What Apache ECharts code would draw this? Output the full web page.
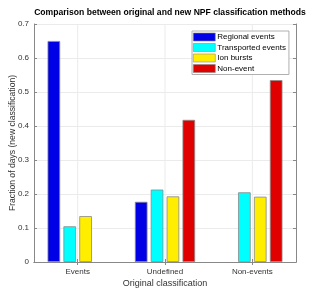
<!DOCTYPE html>
<html><head><meta charset="utf-8">
<script src="https://cdn.jsdelivr.net/npm/echarts@6/dist/echarts.min.js"></script>
<style>html,body{margin:0;padding:0;background:#fff}#c{width:320px;height:296px}</style>
</head><body><div id="c"></div>
<script>
var categories = ['Events', 'Undefined', 'Non-events'];
var regional = [0.650, 0.177, 0];
var transported = [0.105, 0.213, 0.205];
var ionBursts = [0.135, 0.193, 0.192];
var nonEvent = [0, 0.418, 0.535];
var yTicks = [0, 0.1, 0.2, 0.3, 0.4, 0.5, 0.6, 0.7];

var font = 'Liberation Sans, Arial, sans-serif';
var chart = echarts.init(document.getElementById('c'), null, {renderer: 'canvas'});
function bar(name, data, color) {
  return {
    name: name, type: 'bar',
    data: data.map(function (v) { return v === 0 ? '-' : v; }),
    barWidth: 12.6, barGap: '26%',
    itemStyle: {color: color, borderColor: '#8a8a8a', borderWidth: 0.8},
    animation: false
  };
}
chart.setOption({
  animation: false,
  title: {
    text: 'Comparison between original and new NPF classification methods',
    left: 165, top: 3, textAlign: 'center',
    textStyle: {fontFamily: font, fontSize: 8.6, fontWeight: 'bold', color: '#000'}
  },
  legend: {
    orient: 'vertical', left: 192, top: 31,
    itemWidth: 22, itemHeight: 8, itemGap: 1.5,
    padding: [1.5, 3, 1.5, 1],
    borderColor: '#b0b0b0', borderWidth: 1, backgroundColor: '#fff',
    icon: 'rect',
    itemStyle: {borderWidth: 0.6, borderColor: '#8a8a8a'},
    textStyle: {fontFamily: font, fontSize: 8, lineHeight: 9, height: 9, color: '#000', padding: [0, 0, 0, -3]},
    data: ['Regional events', 'Transported events', 'Ion bursts', 'Non-event']
  },
  grid: {left: 34, right: 24, top: 24, bottom: 34, containLabel: false, outerBoundsMode: 'none'},
  xAxis: [{
    type: 'category', data: categories,
    axisLine: {lineStyle: {color: '#888', width: 1}},
    axisTick: {show: true, alignWithLabel: true, inside: true, length: 3, lineStyle: {color: '#888'}},
    axisLabel: {fontFamily: font, fontSize: 8, color: '#333', margin: 6},
    splitLine: {show: false},
    name: 'Original classification', nameLocation: 'middle', nameGap: 17, nameMoveOverlap: false,
    nameTextStyle: {fontFamily: font, fontSize: 9, color: '#333'}
  }, {
    type: 'category', data: categories, position: 'top',
    axisLine: {lineStyle: {color: '#888', width: 1}},
    axisTick: {show: true, alignWithLabel: true, inside: true, length: 3, lineStyle: {color: '#888'}},
    axisLabel: {show: false},
    splitLine: {show: false}
  }],
  yAxis: [{
    type: 'value', min: 0, max: 0.7, interval: 0.1,
    axisLine: {show: true, lineStyle: {color: '#888', width: 1}},
    axisTick: {show: true, inside: true, length: 3, lineStyle: {color: '#888'}},
    axisLabel: {fontFamily: font, fontSize: 8, color: '#333', margin: 5,
      formatter: function (v) { var r = Math.round(v * 10) / 10; return yTicks.indexOf(r) >= 0 ? String(r) : ''; }},
    splitLine: {show: true, lineStyle: {color: '#ebebeb', width: 1}},
    name: 'Fraction of days (new classification)', nameLocation: 'middle', nameGap: 17, nameMoveOverlap: false,
    nameTextStyle: {fontFamily: font, fontSize: 8.6, color: '#333'}
  }, {
    type: 'value', min: 0, max: 0.7, interval: 0.1, position: 'right',
    axisLine: {show: true, lineStyle: {color: '#888', width: 1}},
    axisTick: {show: true, inside: true, length: 3, lineStyle: {color: '#888'}},
    axisLabel: {show: false}, splitLine: {show: false}
  }],
  series: [
    bar('Regional events', regional, '#0000e6'),
    bar('Transported events', transported, '#00ffff'),
    bar('Ion bursts', ionBursts, '#ffee00'),
    bar('Non-event', nonEvent, '#e00000'),
    {type: 'custom', xAxisIndex: 0, yAxisIndex: 0, silent: true, data: categories.map(function (c, i) { return i; }),
     renderItem: function (params, api) {
       var p = api.coord([api.value(0), 0]);
       var top = api.coord([api.value(0), 0.7]);
       return {type: 'line', shape: {x1: p[0], y1: p[1], x2: p[0], y2: top[1]},
               style: {stroke: '#ebebeb', lineWidth: 1}, z2: -10};
     }, z: 0}
  ]
});
</script></body></html>
